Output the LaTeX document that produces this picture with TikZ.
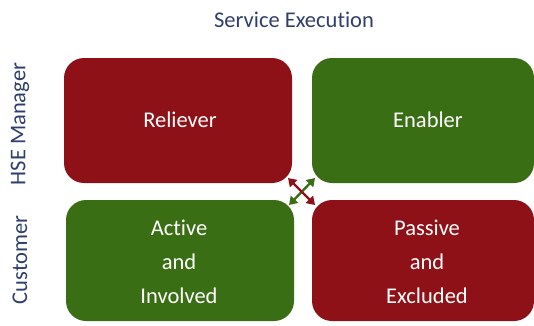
\documentclass[tikz,border=0pt]{standalone}
\usepackage{fontspec}
\setmainfont{Carlito}[Ligatures=NoCommon]
\usetikzlibrary{arrows.meta}
\definecolor{quadred}{HTML}{8E1118}
\definecolor{quadgreen}{HTML}{3A6E14}
\definecolor{axisblue}{HTML}{2F3F6B}
\tikzset{
  quad/.style={rounded corners=20pt, draw=none},
  quadtext/.style={text=white, font=\fontsize{22.5}{34}\selectfont, align=center},
  axis/.style={text=axisblue, font=\fontsize{22.5}{26}\selectfont},
  swap/.style={line width=2.4pt, {Triangle[width=10pt,length=8pt]}-{Triangle[width=10pt,length=8pt]}}
}
\begin{document}
\begin{tikzpicture}[x=1pt,y=-1pt]
  \useasboundingbox (0,0) rectangle (534,325);
  % quadrants
  \fill[quad, quadred]   (64,58)  rectangle (292,183);
  \fill[quad, quadgreen] (312,58) rectangle (534,183);
  \fill[quad, quadgreen] (66,200) rectangle (294,321);
  \fill[quad, quadred]   (312,200) rectangle (534,321);
  \node[quadtext] (rel) at (180,120) {Reliever};
  \node[quadtext] (ena) at (428,120) {Enabler};
  \node[quadtext] (act) at (179,262) {Active\\and\\Involved};
  \node[quadtext] (pas) at (427,262) {Passive\\and\\Excluded};
  % axis labels
  \node[axis] (se) at (294,20) {Service Execution};
  \node[axis, rotate=90] (hse) at (20,124) {HSE Manager};
  \node[axis, rotate=90] (cus) at (20,260) {Customer};
  % crossing arrows between the quadrants
  \coordinate (gA) at (289,205);
  \coordinate (gB) at (315,178);
  \coordinate (rA) at (288,178);
  \coordinate (rB) at (315,205);
  \draw[swap, quadgreen] (gA) -- (gB);
  \draw[swap, quadred] (rA) -- (rB);
\end{tikzpicture}
\end{document}
